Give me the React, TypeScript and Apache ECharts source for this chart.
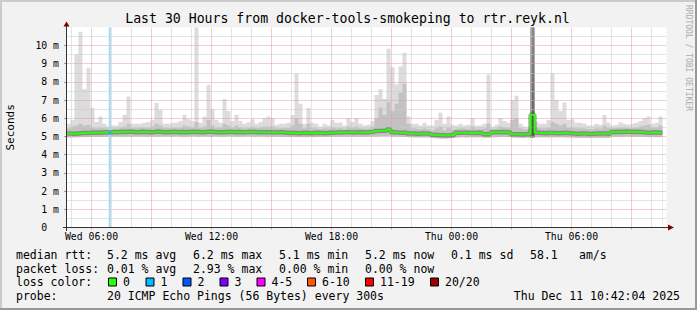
import React, { useEffect, useRef } from "react";
import * as echarts from "echarts";

// ---- time frame (hours since Wed 00:00) ----
const START_HOUR = 4.75;
const END_HOUR = 34.75;
const STEP_HOURS = 0.2;
const Y_MAX = 11;

// ---- smoke: lowest ping per step (ms) ----
const smokeMin = [
  4.95, 4.94, 4.96, 4.97, 4.96, 4.97, 4.98, 4.97, 4.98, 4.99,
  4.99, 5.0, 5.0, 4.99, 5.0, 4.98, 5.0, 5.01, 5.0, 4.99,
  5.0, 4.99, 5.0, 5.01, 5.0, 4.99, 5.0, 5.01, 4.99, 5.0,
  5.0, 5.01, 4.99, 5.0, 5.0, 4.99, 5.01, 5.0, 4.99, 5.0,
  5.01, 5.0, 4.99, 5.0, 5.01, 5.0, 4.99, 5.0, 5.0, 4.99,
  4.98, 4.99, 4.98, 4.97, 4.98, 4.96, 4.97, 4.96, 4.97, 4.96,
  4.97, 4.96, 4.97, 4.98, 4.97, 4.98, 4.99, 4.98, 4.99, 4.98,
  4.99, 4.98, 4.99, 4.98, 4.99, 4.98, 5.0, 5.02, 5.03, 5.03,
  5.04, 5.0, 4.99, 4.98, 4.97, 4.96, 4.95, 4.94, 4.95, 4.94,
  4.93, 4.9, 4.89, 4.88, 4.89, 4.9, 4.92, 4.95, 4.96, 4.95,
  4.96, 4.95, 4.96, 4.95, 4.93, 4.93, 4.96, 4.97, 4.98, 4.97,
  4.96, 4.93, 4.93, 4.92, 4.93, 4.93, 4.95, 4.96, 4.95, 4.96,
  4.95, 4.96, 4.95, 4.96, 4.95, 4.94, 4.93, 4.92, 4.93, 4.92,
  4.92, 4.93, 4.92, 4.93, 4.92, 4.93, 4.98, 4.99, 4.98, 5.0,
  4.99, 4.98, 4.99, 4.98, 4.97, 4.96, 4.97, 4.96, 4.97, 4.97,
];

// ---- smoke: upper edge of the denser part (ms) ----
const smokeMid = [
  5.45, 5.55, 5.6, 5.7, 5.6, 5.65, 5.5, 5.45, 5.5, 5.45,
  5.42, 5.45, 5.42, 5.5, 5.55, 5.7, 5.5, 5.48, 5.5, 5.48,
  5.5, 5.55, 5.7, 5.6, 5.48, 5.45, 5.5, 5.48, 5.5, 5.6,
  5.55, 5.5, 5.8, 5.48, 5.55, 5.9, 5.6, 5.5, 5.48, 5.7,
  5.6, 5.5, 5.6, 5.5, 5.45, 5.5, 5.55, 5.48, 5.5, 5.55,
  5.55, 5.55, 5.45, 5.45, 5.48, 5.45, 5.6, 6.0, 5.7, 5.45,
  5.7, 5.45, 5.42, 5.4, 5.45, 5.42, 5.5, 5.45, 5.48, 5.42,
  5.55, 5.5, 5.55, 5.45, 5.42, 5.45, 5.55, 6.0, 6.6, 6.2,
  6.9, 6.4, 6.8, 7.4, 7.9, 5.7, 5.45, 5.42, 5.4, 5.45,
  5.4, 5.35, 5.45, 5.55, 5.35, 5.5, 5.38, 5.42, 5.45, 5.42,
  5.42, 5.55, 5.42, 5.42, 5.45, 5.7, 5.42, 5.45, 5.55, 5.5,
  5.48, 5.9, 6.0, 5.45, 5.4, 5.4, 11, 5.5, 5.45, 5.45,
  5.5, 5.8, 5.7, 5.6, 5.7, 5.5, 5.5, 5.45, 5.45, 5.42,
  5.4, 5.4, 5.45, 5.42, 5.6, 5.48, 5.45, 5.48, 5.5, 5.48,
  5.45, 5.48, 5.5, 5.55, 5.6, 5.65, 5.5, 5.5, 5.6, 5.6,
];

// ---- smoke: highest ping per step (ms) ----
const smokeMax = [
  5.7, 5.9, 9.5, 10.75, 7.6, 8.78, 6.58, 5.8, 6.1, 5.7,
  5.55, 5.6, 5.6, 5.8, 6.2, 7.2, 5.7, 5.7, 5.7, 5.75,
  5.8, 5.9, 6.86, 6.47, 5.7, 5.7, 5.75, 5.75, 5.85, 6.2,
  5.95, 5.85, 11, 5.75, 6.1, 7.84, 6.5, 5.9, 5.75, 7.06,
  6.4, 5.85, 6.2, 5.85, 5.7, 5.78, 5.95, 5.7, 5.8, 6.0,
  6.1, 6.0, 5.65, 5.7, 5.7, 5.75, 6.18, 8.45, 6.8, 5.7,
  6.58, 5.75, 5.7, 5.55, 5.7, 5.6, 5.9, 5.75, 5.78, 5.6,
  6.0, 5.8, 6.0, 5.7, 5.6, 5.65, 5.85, 7.28, 7.6, 7.06,
  9.82, 8.8, 7.86, 8.85, 9.6, 6.1, 5.7, 5.7, 5.6, 5.75,
  5.6, 5.6, 5.9, 6.3, 5.7, 6.1, 5.65, 5.6, 5.7, 5.6,
  5.65, 6.0, 5.6, 5.6, 5.7, 8.4, 5.55, 5.65, 6.0, 5.85,
  5.75, 7.0, 7.24, 5.7, 5.55, 5.5, 11, 5.8, 5.7, 5.7,
  5.9, 8.49, 7.0, 6.4, 6.87, 5.9, 5.95, 5.75, 5.75, 5.7,
  5.6, 5.6, 5.7, 5.65, 6.18, 5.75, 5.6, 5.65, 5.78, 5.7,
  5.65, 5.7, 5.75, 5.85, 6.0, 6.1, 5.7, 5.75, 6.1, 6.1,
];

// ---- median rtt per step (ms) ----
const medianRtt = [
  5.16, 5.15, 5.17, 5.19, 5.19, 5.2, 5.22, 5.21, 5.22, 5.23,
  5.22, 5.25, 5.24, 5.26, 5.25, 5.27, 5.25, 5.24, 5.26, 5.25,
  5.24, 5.25, 5.27, 5.25, 5.24, 5.25, 5.26, 5.24, 5.25, 5.23,
  5.25, 5.26, 5.25, 5.24, 5.25, 5.27, 5.25, 5.24, 5.23, 5.25,
  5.26, 5.24, 5.25, 5.23, 5.24, 5.26, 5.25, 5.24, 5.23, 5.24,
  5.23, 5.22, 5.24, 5.23, 5.21, 5.19, 5.2, 5.18, 5.19, 5.2,
  5.18, 5.19, 5.2, 5.19, 5.18, 5.2, 5.21, 5.23, 5.22, 5.24,
  5.23, 5.22, 5.24, 5.23, 5.22, 5.24, 5.26, 5.3, 5.31, 5.33,
  5.38, 5.24, 5.22, 5.21, 5.22, 5.17, 5.16, 5.15, 5.17, 5.16,
  5.15, 5.1, 5.08, 5.07, 5.06, 5.07, 5.09, 5.2, 5.21, 5.2,
  5.19, 5.19, 5.2, 5.19, 5.13, 5.12, 5.23, 5.24, 5.25, 5.24,
  5.23, 5.13, 5.12, 5.11, 5.12, 5.13, 6.2, 5.2, 5.19, 5.18,
  5.2, 5.19, 5.18, 5.19, 5.2, 5.18, 5.16, 5.15, 5.17, 5.16,
  5.14, 5.15, 5.16, 5.17, 5.16, 5.15, 5.25, 5.26, 5.25, 5.27,
  5.26, 5.25, 5.26, 5.25, 5.22, 5.21, 5.23, 5.22, 5.21, 5.21,
];

// dense (dark) smoke column
const denseSmoke = [{ bin: 116, to: 11 }];
// packet loss events (hours), lost pings out of 20
const lossEvents = [{ start: 6.865, end: 6.965, lost: 1, median: 5.22 }];

const xLabelHours = [6, 12, 18, 24, 30];
const majorGridHours = [6, 9, 12, 15, 18, 21, 24, 27, 30, 33];
const minorGridHours = [5, 7, 8, 10, 11, 13, 14, 16, 17, 19, 20, 22, 23, 25, 26, 28, 29, 31, 32, 34];

const lossLegend = [
  { label: "0", color: "#26ff00" },
  { label: "1", color: "#00b8ff" },
  { label: "2", color: "#0059ff" },
  { label: "3", color: "#7e00ff" },
  { label: "4-5", color: "#ff00ff" },
  { label: "6-10", color: "#ff5500" },
  { label: "11-19", color: "#ff0000" },
  { label: "20/20", color: "#a10000" },
];

const titleText = "Last 30 Hours from docker-tools-smokeping to rtr.reyk.nl";
const yAxisName = "Seconds";
const watermark = "RRDTOOL / TOBI OETIKER";
const medianLabel = "median rtt:";
const medianStats = ["5.2 ms avg", "6.2 ms max", "5.1 ms min", "5.2 ms now", "0.1 ms sd", "58.1", "am/s"];
const lossLabel = "packet loss:";
const lossStats = ["0.01 % avg", "2.93 % max", "0.00 % min", "0.00 % now"];
const lossColorLabel = "loss color:";
const probeLabel = "probe:";
const probeText = "20 ICMP Echo Pings (56 Bytes) every 300s";
const timestampText = "Thu Dec 11 10:42:04 2025";

const FONT = "DejaVu Sans Mono";
const MGRID = "#dfa0a0";
const GRID = "#c8c8c8";
const AXIS = "#333333";
const ARROW = "#7f0000";

export default function App() {
  const ref = useRef<HTMLDivElement>(null);

  useEffect(() => {
    if (!ref.current) return;
    const chart = echarts.init(ref.current, undefined, { renderer: "svg" });

    const times = smokeMax.map((_, i) => +(START_HOUR + i * STEP_HOURS).toFixed(4));
    const pts = (arr: number[]) => arr.map((v, i) => [times[i], v]);

    const hidden = { opacity: 0, width: 0 };
    const stepArea = (name: string, data: any[], color: any, z: number, extra: any = {}) => ({
      name,
      type: "line",
      step: "end",
      symbol: "none",
      silent: true,
      data,
      z,
      lineStyle: hidden,
      areaStyle: { color, opacity: 1, origin: "start" },
      ...extra,
    });
    const stepLine = (name: string, data: any[], color: string, width: number, z: number) => ({
      name,
      type: "line",
      step: "end",
      symbol: "none",
      silent: true,
      data,
      z,
      lineStyle: { color, width },
    });

    const denseData = denseSmoke.flatMap((d) => [
      [times[d.bin], d.to],
      [+(times[d.bin] + STEP_HOURS).toFixed(4), d.to],
    ]);

    const series: any[] = [
      stepArea("smokeHigh", pts(smokeMax), "#dcdcdc", 1, {
        markLine: {
          silent: true,
          symbol: "none",
          z: 5,
          animation: false,
          label: { show: false },
          data: [
            ...minorGridHours.map((h) => ({ xAxis: h, lineStyle: { color: GRID, type: [1, 1], width: 1 } })),
            ...majorGridHours.map((h) => ({ xAxis: h, lineStyle: { color: MGRID, type: [1, 1], width: 1 } })),
          ],
        },
      }),
      stepArea("smokeMid", pts(smokeMid), "#c2c2c2", 2),
      stepArea(
        "smokeDense",
        denseData,
        new echarts.graphic.LinearGradient(0, 0, 0, 1, [
          { offset: 0, color: "#8a8a8a" },
          { offset: 1, color: "#3a3a3a" },
        ]),
        3
      ),
      stepArea("smokeFloor", pts(smokeMin), "#ffffff", 4),
      ...lossEvents.map((e) =>
        stepArea(
          "lossBar",
          [
            [e.start, Y_MAX],
            [e.end, Y_MAX],
          ],
          "#a3d9f2",
          6
        )
      ),
      stepLine("medianHalo", pts(medianRtt), "rgba(50,50,50,0.4)", 4.5, 7),
      stepLine("median", pts(medianRtt), lossLegend[0].color, 2, 8),
      ...lossEvents.map((e) =>
        stepLine(
          "medianLoss",
          [
            [e.start, e.median],
            [e.end, e.median],
          ],
          lossLegend[Math.min(e.lost, lossLegend.length - 1)].color,
          3,
          9
        )
      ),
    ];

    const text = (t: string, x: number, y: number, extra: any = {}) => ({
      type: "text",
      x,
      y,
      z: 100,
      silent: true,
      style: {
        text: t,
        fill: "#000",
        fontFamily: FONT,
        fontSize: 11.5,
        align: "left",
        verticalAlign: "middle",
        textAlign: "left",
        textVerticalAlign: "middle",
        ...extra,
      },
    });

    const COL_X = [107, 193, 279, 365, 451, 530, 579];
    const BOX_X = [108, 145.5, 182.5, 219.5, 256.5, 307, 365, 430];
    const ROW_Y = [254.5, 268.5, 282, 296];

    const graphic: any[] = [
      { type: "rect", z: 100, silent: true, shape: { x: 0, y: 0, width: 697, height: 2 }, style: { fill: "#cbcbcb" } },
      { type: "rect", z: 100, silent: true, shape: { x: 0, y: 0, width: 2, height: 310 }, style: { fill: "#cbcbcb" } },
      { type: "rect", z: 100, silent: true, shape: { x: 0, y: 308, width: 697, height: 2 }, style: { fill: "#999999" } },
      { type: "rect", z: 100, silent: true, shape: { x: 695, y: 0, width: 2, height: 310 }, style: { fill: "#999999" } },
      // axis extensions and arrows
      { type: "line", z: 100, silent: true, shape: { x1: 66.5, y1: 227.5, x2: 66.5, y2: 231 }, style: { stroke: AXIS, lineWidth: 1 } },
      { type: "line", z: 100, silent: true, shape: { x1: 63, y1: 227.5, x2: 669, y2: 227.5 }, style: { stroke: AXIS, lineWidth: 1 } },
      { type: "line", z: 100, silent: true, shape: { x1: 66.5, y1: 227.5, x2: 66.5, y2: 25 }, style: { stroke: AXIS, lineWidth: 1 } },
      { type: "polygon", z: 100, silent: true, shape: { points: [[63.5, 26.5], [69.5, 26.5], [66.5, 21.5]] }, style: { fill: ARROW } },
      { type: "polygon", z: 100, silent: true, shape: { points: [[668, 224.5], [668, 230.5], [674, 227.5]] }, style: { fill: ARROW } },
      // title & watermark
      text(titleText, 347.5, 18.5, { fontSize: 13.2, align: "center", textAlign: "center" }),
      { ...text(watermark, 688, 5, { fontSize: 8, fill: "#aaaaaa" }), rotation: -Math.PI / 2 },
      // legend rows
      text(medianLabel, 16, ROW_Y[0]),
      ...medianStats.map((s, i) => text(s, COL_X[i], ROW_Y[0])),
      text(lossLabel, 16, ROW_Y[1]),
      ...lossStats.map((s, i) => text(s, COL_X[i], ROW_Y[1])),
      text(lossColorLabel, 16, ROW_Y[2]),
      ...lossLegend.flatMap((l, i) => [
        {
          type: "rect",
          z: 100,
          silent: true,
          shape: { x: BOX_X[i] + 0.5, y: 278, width: 8, height: 8 },
          style: { fill: l.color, stroke: "#000", lineWidth: 1 },
        },
        text(l.label, BOX_X[i] + 15, ROW_Y[2]),
      ]),
      text(probeLabel, 16, ROW_Y[3]),
      text(probeText, COL_X[0], ROW_Y[3]),
      text(timestampText, 680, ROW_Y[3], { align: "right", textAlign: "right" }),
    ];

    const fmtHour = (v: number) => {
      const day = v < 24 ? "Wed" : "Thu";
      const h = Math.round(v) % 24;
      return `${day} ${String(h).padStart(2, "0")}:00`;
    };

    chart.setOption({
      animation: false,
      backgroundColor: "#f2f2f2",
      grid: {
        left: 66.5,
        right: 30.5,
        top: 27.3,
        bottom: 82.5,
        containLabel: false,
        outerBoundsMode: "none",
        show: true,
        backgroundColor: "#ffffff",
        borderWidth: 0,
      },
      xAxis: {
        type: "value",
        min: START_HOUR,
        max: END_HOUR,
        z: 10,
        axisLine: { show: true, onZero: false, lineStyle: { color: AXIS, width: 1 } },
        axisTick: { show: true, customValues: majorGridHours, length: 2, lineStyle: { color: MGRID } },
        axisLabel: {
          customValues: xLabelHours,
          margin: 4,
          fontFamily: FONT,
          fontSize: 9.8,
          color: "#000",
          formatter: (v: number) => fmtHour(v),
        },
        splitLine: { show: false },
      },
      yAxis: {
        type: "value",
        min: 0,
        max: Y_MAX,
        interval: 1,
        z: 5,
        name: yAxisName,
        nameLocation: "middle",
        nameGap: 51,
        nameRotate: 90,
        nameTextStyle: { fontFamily: FONT, fontSize: 11, color: "#000" },
        axisLine: { show: true, onZero: false, lineStyle: { color: AXIS, width: 1 } },
        axisTick: { show: true, length: 2, lineStyle: { color: "#777777" } },
        minorTick: { show: false, splitNumber: 2 },
        axisLabel: {
          margin: 7.5,
          showMaxLabel: false,
          fontFamily: FONT,
          fontSize: 9.8,
          color: "#000",
          formatter: (v: number) => (v >= Y_MAX ? "" : v === 0 ? "{z|0}" : `${v} m`),
          rich: { z: { fontFamily: FONT, fontSize: 9.8, color: "#000", padding: [0, 11.8, 0, 0] } },
        },
        splitLine: {
          show: true,
          showMinLine: false,
          showMaxLine: false,
          lineStyle: { color: MGRID, type: [1, 1], width: 1 },
        },
        minorSplitLine: { show: true, lineStyle: { color: GRID, type: [1, 1], width: 1 } },
      },
      series,
      graphic,
    });

    return () => chart.dispose();
  }, []);

  return <div ref={ref} style={{ position: "fixed", left: 0, top: 0, width: 697, height: 310 }} />;
}
